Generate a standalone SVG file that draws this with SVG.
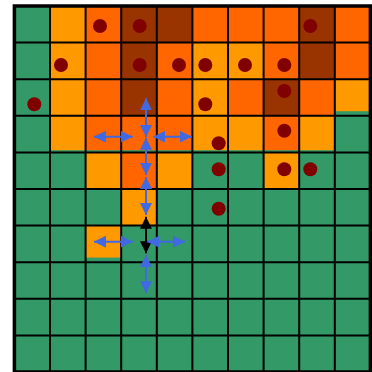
<svg xmlns="http://www.w3.org/2000/svg" width="372" height="372" viewBox="0 0 372 372">
<style>
.G{fill:#339966}.L{fill:#FF9900}.O{fill:#FF6600}.B{fill:#993300}
.dot{fill:#800000}
.grid{stroke:#000;stroke-width:2;fill:none}
.ab{stroke:#4169E1;stroke-width:2;fill:none;marker-start:url(#hb);marker-end:url(#hb)}
.ak{stroke:#000;stroke-width:2;fill:none;marker-start:url(#hk);marker-end:url(#hk)}
</style>
<defs>
<marker id="hb" markerUnits="userSpaceOnUse" markerWidth="12" markerHeight="12" viewBox="0 0 10 10" refX="10" refY="5" orient="auto-start-reverse"><path d="M0,0 L10,5 L0,10 Z" fill="#4169E1"/></marker>
<marker id="hk" markerUnits="userSpaceOnUse" markerWidth="12" markerHeight="12" viewBox="0 0 10 10" refX="10" refY="5" orient="auto-start-reverse"><path d="M0,0 L10,5 L0,10 Z" fill="#000"/></marker>
</defs>
<g id="cells">
<rect class="G" x="14.4" y="6" width="356" height="366"/>
<!-- row 0 -->
<rect class="L" x="50" y="6" width="35.6" height="36.6"/>
<rect class="O" x="85.6" y="6" width="35.6" height="36.6"/>
<rect class="B" x="121.2" y="6" width="35.6" height="36.6"/>
<rect class="B" x="157.8" y="6" width="34.6" height="36.6"/>
<rect class="O" x="192.4" y="6" width="35.6" height="36.6"/>
<rect class="O" x="228" y="6" width="35.6" height="36.6"/>
<rect class="O" x="263.6" y="6" width="35.6" height="36.6"/>
<rect class="B" x="299.2" y="6" width="35.6" height="36.6"/>
<rect class="O" x="334.8" y="6" width="35.6" height="36.6"/>
<!-- row 1 -->
<rect class="L" x="50" y="42.6" width="35.6" height="36.6"/>
<rect class="O" x="85.6" y="42.6" width="35.6" height="36.6"/>
<rect class="B" x="121.2" y="42.6" width="35.6" height="36.6"/>
<rect class="O" x="156.8" y="42.6" width="35.6" height="36.6"/>
<rect class="L" x="192.4" y="42.6" width="35.6" height="36.6"/>
<rect class="L" x="228" y="42.6" width="35.6" height="36.6"/>
<rect class="O" x="263.6" y="42.6" width="35.6" height="36.6"/>
<rect class="B" x="299.2" y="42.6" width="35.6" height="36.6"/>
<rect class="O" x="334.8" y="42.6" width="35.6" height="36.6"/>
<!-- row 2 -->
<rect class="L" x="50" y="79.2" width="35.6" height="36.6"/>
<rect class="O" x="85.6" y="79.2" width="35.6" height="36.6"/>
<rect class="B" x="121.2" y="79.2" width="35.6" height="36.6"/>
<rect class="O" x="156.8" y="79.2" width="35.6" height="36.6"/>
<rect class="L" x="192.4" y="79.2" width="35.6" height="36.6"/>
<rect class="O" x="228" y="79.2" width="35.6" height="36.6"/>
<rect class="B" x="263.6" y="79.2" width="35.6" height="36.6"/>
<rect class="O" x="299.2" y="79.2" width="35.6" height="36.6"/>
<rect class="L" x="334.8" y="79.2" width="35.6" height="32"/>
<!-- row 3 -->
<rect class="L" x="50" y="115.8" width="35.6" height="34.4"/>
<rect class="O" x="85.6" y="115.8" width="35.6" height="34.4"/>
<rect class="O" x="121.2" y="115.8" width="35.6" height="34.4"/>
<rect class="O" x="156.8" y="115.8" width="35.6" height="34.4"/>
<rect class="L" x="192.4" y="115.8" width="35.6" height="34.4"/>
<rect class="L" x="228" y="115.8" width="35.6" height="34.4"/>
<rect class="O" x="263.6" y="115.8" width="35.6" height="34.4"/>
<rect class="L" x="299.2" y="115.8" width="35.6" height="34.4"/>
<!-- row 4 -->
<rect class="L" x="85.6" y="152.4" width="35.6" height="36.6"/>
<rect class="O" x="121.2" y="152.4" width="35.6" height="36.6"/>
<rect class="L" x="156.8" y="152.4" width="35.6" height="36.6"/>
<rect class="L" x="263.6" y="152.4" width="35.6" height="36.6"/>
<!-- row 5 -->
<rect class="L" x="121.2" y="189" width="35.6" height="36.6"/>
<!-- row 6 -->
<rect class="L" x="85.6" y="225.6" width="35.6" height="32"/>
</g>
<g id="grid">
<path class="grid" d="M50,6V372M85.6,6V372M121.2,6V372M156.8,6V372M192.4,6V372M228,6V372M263.6,6V372M299.2,6V372M334.8,6V372M14.4,42.6H370.4M14.4,79.2H370.4M14.4,115.8H370.4M14.4,152.4H370.4M14.4,189H370.4M14.4,225.6H370.4M14.4,262.2H370.4M14.4,298.8H370.4M14.4,335.4H370.4"/>
<rect x="14.4" y="6" width="356" height="366" fill="none" stroke="#000" stroke-width="3.5"/>
</g>
<g id="dots">
<circle class="dot" cx="100" cy="26" r="7"/>
<circle class="dot" cx="139.7" cy="26" r="7"/>
<circle class="dot" cx="310.3" cy="26" r="7"/>
<circle class="dot" cx="61" cy="65" r="7"/>
<circle class="dot" cx="139.7" cy="65" r="7"/>
<circle class="dot" cx="179" cy="65" r="7"/>
<circle class="dot" cx="205.3" cy="65" r="7"/>
<circle class="dot" cx="245" cy="65" r="7"/>
<circle class="dot" cx="284.3" cy="65" r="7"/>
<circle class="dot" cx="34.3" cy="104.3" r="7"/>
<circle class="dot" cx="205.3" cy="104.3" r="7"/>
<circle class="dot" cx="284.3" cy="91" r="7"/>
<circle class="dot" cx="218.7" cy="143.3" r="7"/>
<circle class="dot" cx="284.3" cy="130.7" r="7"/>
<circle class="dot" cx="218.7" cy="169.3" r="7"/>
<circle class="dot" cx="284.3" cy="169.3" r="7"/>
<circle class="dot" cx="310.3" cy="169.3" r="7"/>
<circle class="dot" cx="218.7" cy="208.7" r="7"/>
</g>
<g id="connectors">
<line class="ab" x1="146" y1="137" x2="146" y2="98.3"/>
<line class="ab" x1="146" y1="137.7" x2="146" y2="175"/>
<line class="ab" x1="146" y1="177" x2="146" y2="215"/>
<line class="ak" x1="146" y1="216.7" x2="146" y2="253.3"/>
<line class="ab" x1="146" y1="255" x2="146" y2="293.3"/>
<line class="ab" x1="94" y1="136.7" x2="132.7" y2="136.7"/>
<line class="ab" x1="153.3" y1="136.7" x2="191.7" y2="136.7"/>
<line class="ab" x1="94" y1="241.7" x2="132.7" y2="241.7"/>
<line class="ab" x1="147.3" y1="241.7" x2="185" y2="241.7"/>
</g>
</svg>
